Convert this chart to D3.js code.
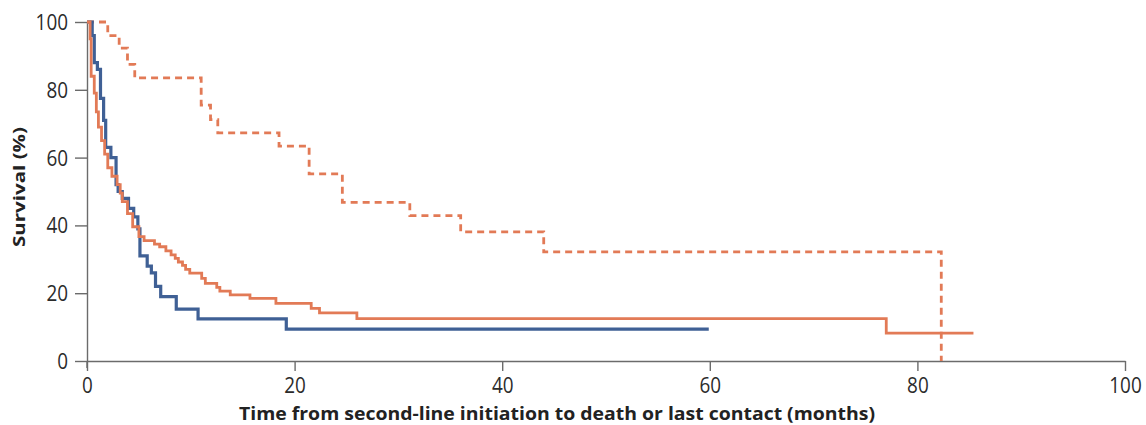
<!DOCTYPE html>
<html>
<head>
<meta charset="utf-8">
<script src="https://cdn.jsdelivr.net/npm/d3@7"></script>
<style>
  body { margin: 0; background: #fff; }
  text { font-family: "Open Sans", "Noto Sans", sans-serif; }
</style>
</head>
<body>
<svg id="chart"></svg>
<script>
// Kaplan-Meier steps (time in months, survival in %)
var blueTimes = [0, 0.5, 0.7, 1.0, 1.3, 1.6, 1.8, 2.3, 2.8, 3.0, 3.4, 4.0, 4.5, 4.9, 5.1, 5.8, 6.2, 6.6, 7.1, 8.6, 10.7, 19.2, 59.9];
var blueSurv = [100, 96, 88, 86, 77.5, 71, 63, 60, 52, 50, 48, 45, 42.5, 39, 31, 28, 26, 22, 19, 15.3, 12.4, 9.4, 9.4];

var orangeTimes = [0, 0.3, 0.4, 0.7, 0.9, 1.1, 1.4, 1.7, 2.0, 2.4, 2.9, 3.2, 3.4, 3.9, 4.4, 5.0, 5.5, 6.5, 7.0, 7.6, 8.1, 8.5, 8.8, 9.2, 9.5, 9.9, 11.05, 11.4, 12.5, 12.8, 13.8, 15.7, 18.2, 21.6, 22.4, 26.0, 77.0, 85.4];
var orangeSurv = [100, 95, 84, 79, 73.5, 69, 65, 61, 57, 54.5, 52, 49.5, 47, 43.5, 39.6, 36.7, 35.5, 34.5, 33.7, 32.5, 31.3, 30.3, 29.2, 28.2, 27, 25.9, 24.4, 22.9, 21.7, 20.6, 19.5, 18.5, 17.0, 15.5, 14.2, 12.5, 8.2, 8.2];

var dashTimes = [0, 2.0, 3.1, 3.9, 4.6, 11.0, 11.9, 12.6, 18.5, 21.4, 24.6, 31.1, 36.0, 44.0, 82.3];
var dashSurv = [100, 96, 92.3, 87.5, 83.5, 75.5, 71.2, 67.3, 63.4, 55.2, 46.8, 42.9, 38.1, 32.2, 0];

var xTicks = [0, 20, 40, 60, 80, 100];
var yTicks = [0, 20, 40, 60, 80, 100];

var xTitle = "Time from second-line initiation to death or last contact (months)";
var yTitle = "Survival (%)";

var iWidth = 1146, iHeight = 425;
var oMargin = { top: 22, right: 21, bottom: 64, left: 87 };

var oSvg = d3.select("#chart").attr("width", iWidth).attr("height", iHeight);

var x = d3.scaleLinear().domain([0, 100]).range([oMargin.left, iWidth - oMargin.right]);
var y = d3.scaleLinear().domain([0, 100]).range([iHeight - oMargin.bottom, oMargin.top]);

// axes
var gx = oSvg.append("g")
  .attr("transform", "translate(0," + (iHeight - oMargin.bottom) + ")")
  .call(d3.axisBottom(x).tickValues(xTicks).tickSize(10).tickSizeOuter(0).tickPadding(7));

var gy = oSvg.append("g")
  .attr("transform", "translate(" + oMargin.left + ",0)")
  .call(d3.axisLeft(y).tickValues(yTicks).tickSize(12).tickSizeOuter(0).tickPadding(7));

[gx, gy].forEach(function (g) {
  g.select(".domain").attr("stroke", "#6b6b6b").attr("stroke-width", 1.4);
  g.selectAll(".tick line").attr("stroke", "#6b6b6b").attr("stroke-width", 1.4);
  g.selectAll(".tick text").attr("fill", "#2b2b2b").style("font-size", "21px")
    .style("font-family", "'Open Sans', sans-serif")
    .attr("textLength", function (d) { return String(d).length * 10.8; })
    .attr("lengthAdjust", "spacingAndGlyphs");
});
gy.selectAll(".tick text").attr("dy", "0.36em");

// y axis line continues a little below zero
gy.append("line").attr("x1", 0).attr("x2", 0)
  .attr("y1", y(0)).attr("y2", y(0) + 7)
  .attr("stroke", "#6b6b6b").attr("stroke-width", 1.4);

// titles
oSvg.append("text")
  .attr("x", (x(0) + x(100)) / 2 - 49).attr("y", 420)
  .attr("text-anchor", "middle")
  .attr("textLength", 636).attr("lengthAdjust", "spacingAndGlyphs")
  .style("font-size", "17px").style("font-weight", "bold").attr("fill", "#222")
  .text(xTitle);

oSvg.append("text")
  .attr("transform", "translate(25," + 187 + ") rotate(-90)")
  .attr("text-anchor", "middle")
  .attr("textLength", 120).attr("lengthAdjust", "spacingAndGlyphs")
  .style("font-size", "16px").style("font-weight", "bold").attr("fill", "#222")
  .text(yTitle);

var line = d3.line()
  .x(function (d) { return x(d[0]); })
  .y(function (d) { return y(d[1]); })
  .curve(d3.curveStepAfter);

function zip(a, b) { return a.map(function (t, i) { return [t, b[i]]; }); }

oSvg.append("path").datum(zip(dashTimes, dashSurv))
  .attr("d", line).attr("fill", "none")
  .attr("stroke", "#e27a56").attr("stroke-width", 2.8)
  .attr("stroke-dasharray", "7,5");

oSvg.append("path").datum(zip(blueTimes, blueSurv))
  .attr("d", line).attr("fill", "none")
  .attr("stroke", "#3f6095").attr("stroke-width", 3.2);

oSvg.append("path").datum(zip(orangeTimes, orangeSurv))
  .attr("d", line).attr("fill", "none")
  .attr("stroke", "#e27a56").attr("stroke-width", 2.8);
</script>
</body>
</html>
